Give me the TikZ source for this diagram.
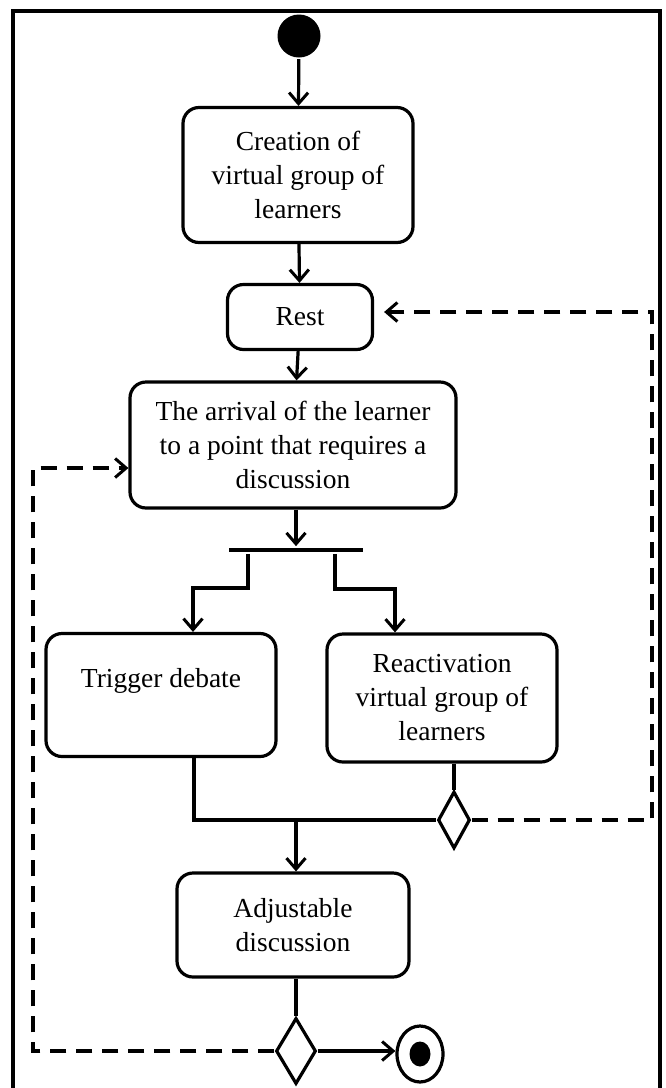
\documentclass[tikz,border=0pt]{standalone}
\usepackage{fontspec}
\setmainfont{Liberation Serif}
\usetikzlibrary{arrows.meta,shapes.geometric}
\begin{document}
\begin{tikzpicture}[x=1pt, y=-1pt, line width=3.2pt,
  >={Straight Barb[length=11pt, width=19pt, line width=3pt]},
  activity/.style={draw, rounded corners=16pt, align=center, inner sep=0pt,
    font=\fontsize{27.5}{34}\selectfont},
  choice/.style={draw, diamond, inner sep=0pt},
  flow/.style={line width=3.6pt, dash pattern=on 16pt off 10pt}]
  \useasboundingbox (0,0) rectangle (665,1088);
  \draw [line width=4.5pt] (13,1088) -- (13,11) -- (660,11) -- (660,1088);
  \node (start) [circle, fill, minimum size=43pt, inner sep=0pt] at (299,36) {};
  \node (create) [activity, minimum width=230pt, minimum height=135pt] at (298,175) {Creation of\\virtual group of\\learners};
  \node (rest) [activity, minimum width=145pt, minimum height=65pt] at (300,317) {Rest};
  \node (arrival) [activity, minimum width=326pt, minimum height=126pt] at (293,445) {The arrival of the learner\\to a point that requires a\\discussion};
  \node (fork) [fill, inner sep=0pt, minimum width=134pt, minimum height=4.5pt] at (296,550) {};
  \node (trigger) [activity, minimum width=230pt, minimum height=123pt] at (161,695) {Trigger debate\\\mbox{}};
  \node (react) [activity, minimum width=230pt, minimum height=128pt] at (442,698) {Reactivation\\virtual group of\\learners};
  \node (merge1) [choice, minimum width=32pt, minimum height=57pt] at (454,820) {};
  \node (adjust) [activity, minimum width=232pt, minimum height=104pt] at (293,925) {Adjustable\\discussion};
  \node (merge2) [choice, minimum width=40pt, minimum height=66pt] at (296,1051) {};
  \node (end) [ellipse, draw, minimum width=46pt, minimum height=56pt, inner sep=0pt] at (420,1054) {};
  \node (endin) [ellipse, fill, minimum width=21pt, minimum height=25pt, inner sep=0pt] at (end) {};
  \coordinate (lb) at (248,588);
  \coordinate (rb) at (335,589);
  \coordinate (mrg) at (296,820);
  \coordinate (rc) at (652,312);
  \coordinate (lc) at (33,468);
  \draw [->] (start) to (create);
  \draw [->] (create) to (rest);
  \draw [->] (rest) to (arrival);
  \draw [->] (fork |- arrival.south) to (fork.north);
  \draw [->] (fork.south -| lb) -- (lb) -| ([xshift=32pt]trigger.north);
  \draw [->] (fork.south -| rb) -- (rb) -| ([xshift=-47pt]react.north);
  \draw ([xshift=33pt]trigger.south) |- (merge1.west);
  \draw (react.south -| merge1) -- (merge1.north);
  \draw [->] (mrg) to (adjust.north -| mrg);
  \draw (adjust.south -| merge2) -- (merge2.north);
  \draw [->] (merge2.east) to (merge2.east -| end.west);
  \draw [->, flow, shorten >=10pt] (merge1.east) -| (rc) -- (rc -| rest.east);
  \draw [->, flow] (merge2.west) -| (lc) -- (lc -| arrival.west);
\end{tikzpicture}
\end{document}
